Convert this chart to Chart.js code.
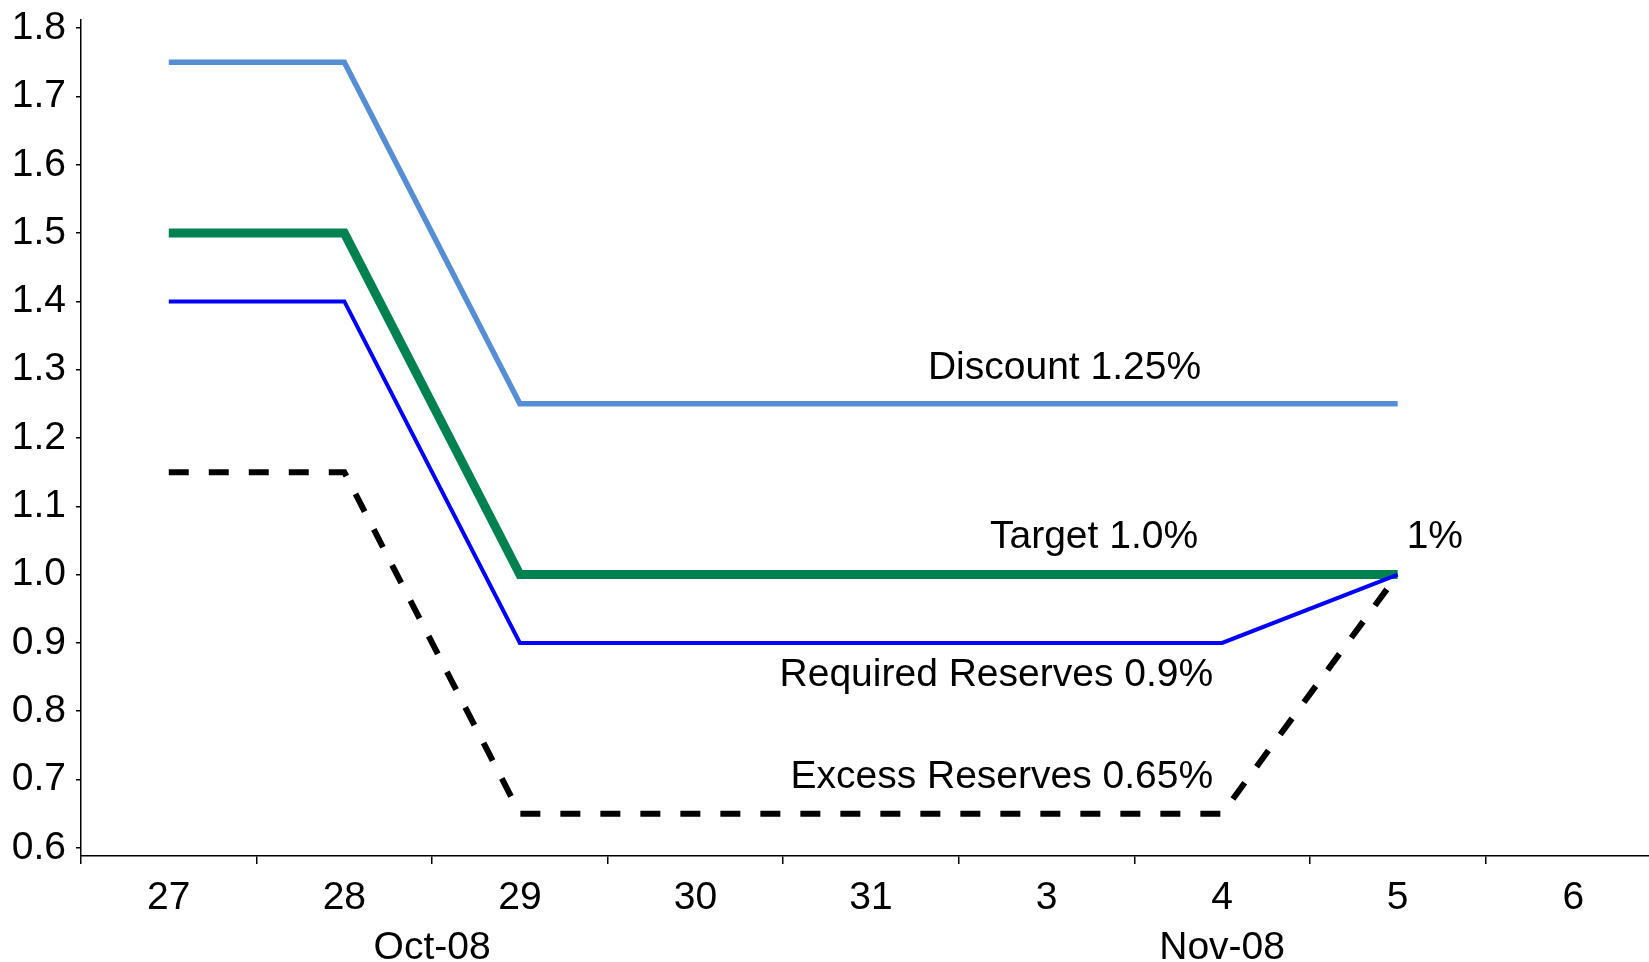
<!DOCTYPE html>
<html>
<head>
<meta charset="utf-8">
<script src="https://cdn.jsdelivr.net/npm/chart.js@4/dist/chart.umd.min.js"></script>
<style>
  html, body { margin: 0; padding: 0; background: #fff; overflow: hidden; }
  #wrap { width: 1661px; height: 962px; position: relative; }
</style>
</head>
<body>
<div id="wrap"><canvas id="c" width="1661" height="962"></canvas></div>
<script>
// Data
const categories = ['27', '28', '29', '30', '31', '3', '4', '5', '6'];
const discountRate = [1.75, 1.75, 1.25, 1.25, 1.25, 1.25, 1.25, 1.25, null];
const targetRate   = [1.5, 1.5, 1.0, 1.0, 1.0, 1.0, 1.0, 1.0, null];
const requiredReserves = [1.4, 1.4, 0.9, 0.9, 0.9, 0.9, 0.9, 1.0, null];
const excessReserves   = [1.15, 1.15, 0.65, 0.65, 0.65, 0.65, 0.65, 1.0, null];
const yTicks = [0.6, 0.7, 0.8, 0.9, 1.0, 1.1, 1.2, 1.3, 1.4, 1.5, 1.6, 1.7, 1.8];
const monthLabels = ['Oct-08', 'Nov-08'];
const seriesLabels = ['Discount 1.25%', 'Target 1.0%', 'Required Reserves 0.9%', 'Excess Reserves 0.65%', '1%'];

const FONT = '"Liberation Sans", Arial, sans-serif';

const annotationPlugin = {
  id: 'annots',
  afterDraw(chart) {
    const ctx = chart.ctx;
    const xs = chart.scales.x, ys = chart.scales.y;
    const px = i => xs.getPixelForValue(i);
    const py = v => ys.getPixelForValue(v);
    ctx.save();
    ctx.fillStyle = '#000';
    ctx.font = '39px ' + FONT;
    ctx.textBaseline = 'middle';
    ctx.textAlign = 'right';
    ctx.fillText(seriesLabels[0], px(6) - 21, py(discountRate[6]) - 36);
    ctx.fillText(seriesLabels[1], px(6) - 24, py(targetRate[6]) - 37);
    ctx.fillText(seriesLabels[2], px(6) - 9, py(requiredReserves[6]) + 32);
    ctx.fillText(seriesLabels[3], px(6) - 9, py(excessReserves[6]) - 36);
    ctx.textAlign = 'left';
    ctx.fillText(seriesLabels[4], px(7) + 9, py(targetRate[7]) - 37);
    // month group labels
    ctx.textAlign = 'center';
    const yb = chart.chartArea.bottom + 92;
    ctx.fillText(monthLabels[0], (px(1) + px(2)) / 2, yb);
    ctx.fillText(monthLabels[1], px(6), yb);
    ctx.restore();
  }
};

const common = { pointRadius: 0, tension: 0, fill: false, borderCapStyle: 'butt', borderJoinStyle: 'miter', spanGaps: false };

new Chart(document.getElementById('c'), {
  type: 'line',
  data: {
    labels: categories,
    datasets: [
      Object.assign({ label: 'Excess Reserves', data: excessReserves, borderColor: '#000000', borderWidth: 6, borderDash: [20, 20] }, common),
      Object.assign({ label: 'Required Reserves', data: requiredReserves, borderColor: '#0000FF', borderWidth: 4 }, common),
      Object.assign({ label: 'Target', data: targetRate, borderColor: '#008250', borderWidth: 9 }, common),
      Object.assign({ label: 'Discount', data: discountRate, borderColor: '#558ED5', borderWidth: 5.5 }, common)
    ]
  },
  options: {
    responsive: false,
    maintainAspectRatio: false,
    animation: false,
    layout: { padding: { top: 20, right: 0, left: 0, bottom: 0 } },
    plugins: { legend: { display: false }, tooltip: { enabled: false } },
    scales: {
      x: {
        type: 'category',
        offset: true,
        grid: { display: true, drawOnChartArea: false, offset: true, tickLength: 8, color: '#000', lineWidth: 1.5 },
        border: { display: true, color: '#000', width: 1.5 },
        ticks: { color: '#000', font: { family: FONT, size: 39 }, padding: 11, maxRotation: 0, autoSkip: false },
        afterFit(s) { s.height = 106; s.paddingLeft = 0; s.paddingRight = 0; }
      },
      y: {
        type: 'linear',
        bounds: 'data',
        min: 0.588,
        max: 1.812,
        grid: { display: true, drawOnChartArea: false, tickLength: 5, color: '#000', lineWidth: 1.5 },
        border: { display: true, color: '#000', width: 1.5 },
        afterBuildTicks(s) { s.ticks = yTicks.map(v => ({ value: v })); },
        ticks: {
          color: '#000', font: { family: FONT, size: 39 }, padding: 10,
          callback: v => Number(v).toFixed(1)
        },
        afterFit(s) { s.width = 81; s.paddingTop = 0; s.paddingBottom = 0; }
      }
    }
  },
  plugins: [annotationPlugin]
});
</script>
</body>
</html>
